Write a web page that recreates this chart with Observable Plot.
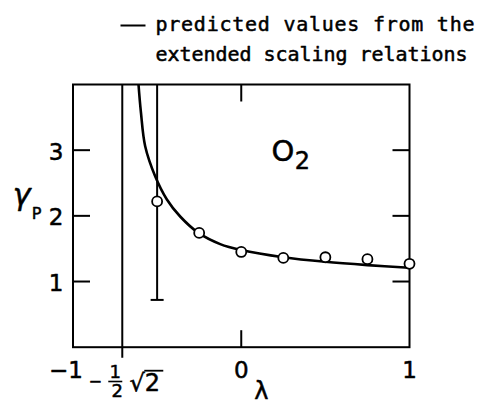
<!DOCTYPE html>
<html>
<head>
<meta charset="utf-8">
<script src="https://cdn.jsdelivr.net/npm/d3@7"></script>
<script src="https://cdn.jsdelivr.net/npm/@observablehq/plot@0.6"></script>
<style>
  body { margin: 0; background: #fff; }
</style>
</head>
<body>
<div id="chart"></div>
<script>
// Measured γ_P for O2 at each λ
const lambda = [-0.5, -0.25, 0, 0.25, 0.5, 0.75, 1];
const gammaP = [2.22, 1.74, 1.45, 1.36, 1.37, 1.34, 1.27];

// Error bar on the λ = -0.5 point (its upper end runs off the top)
const errLambda = [-0.5];
const errLow = [0.72];
const errHigh = [4.2];

// Predicted values from the extended scaling relations
const curveLambda = [-0.62, -0.612, -0.596, -0.571, -0.511, -0.442, -0.363, -0.254, -0.125, 0, 0.25, 0.5, 0.75, 1];
const curveGamma  = [4.4, 4.05, 3.57, 3.06, 2.60, 2.25, 1.99, 1.74, 1.57, 1.48, 1.37, 1.30, 1.25, 1.21];

// Vertical asymptote at λ = -½√2, drawn down past the axis
const asymptote = [-Math.SQRT1_2];
const asymptoteBottom = -0.17;
const asymptoteTop = 4;

// Axis ticks and labels
const xTicks = [-1, 0, 1];
const xTickLabels = ["−1", "0", "1"];
const yTicks = [1, 2, 3];
const yTickLabels = ["1", "2", "3"];
const xInnerTicks = [0];

const legendLines = ["predicted values from the", "extended scaling relations"];

const points = lambda.map((l, i) => ({l, g: gammaP[i]}));
const curve = curveLambda.map((l, i) => ({l, g: curveGamma[i]}));
const errors = errLambda.map((l, i) => ({l, lo: errLow[i], hi: errHigh[i]}));

// Small line-segment symbols for ticks, caps and the legend swatch
const hLine = (x0, x1) => ({draw(ctx) { ctx.moveTo(x0, 0); ctx.lineTo(x1, 0); }});
const vLine = (y0, y1) => ({draw(ctx) { ctx.moveTo(0, y0); ctx.lineTo(0, y1); }});

const sans = "DejaVu Sans, Liberation Sans, sans-serif";
const mono = "DejaVu Sans Mono, Liberation Mono, monospace";
// lettering with a slightly heavier pen
const ink = {fill: "black", stroke: "black", strokeWidth: 0.5};
const label = {...ink, textAnchor: "middle", lineAnchor: "middle"};

const chart = Plot.plot({
  width: 479,
  height: 406,
  marginLeft: 72.5,
  marginRight: 70,
  marginTop: 84,
  marginBottom: 59.3,
  x: {domain: [-1, 1], axis: null},
  y: {domain: [0, 4], axis: null},
  style: {fontFamily: sans, fontSize: "23px", color: "black", background: "white", overflow: "visible"},
  marks: [
    Plot.frame({stroke: "black", strokeWidth: 2}),

    // inward ticks: y on both sides, x = 0 on top and bottom
    Plot.dot(yTicks, {x: () => -1, y: d => d, symbol: hLine(0, 17), stroke: "black", strokeWidth: 2, fill: "none"}),
    Plot.dot(yTicks, {x: () => 1, y: d => d, symbol: hLine(-17, 0), stroke: "black", strokeWidth: 2, fill: "none"}),
    Plot.dot(xInnerTicks, {x: d => d, y: () => 4, symbol: vLine(0, 17), stroke: "black", strokeWidth: 2, fill: "none"}),
    Plot.dot(xInnerTicks, {x: d => d, y: () => 0, symbol: vLine(-17, 0), stroke: "black", strokeWidth: 2, fill: "none"}),

    // tick labels
    Plot.text(yTicks, {x: () => -1, y: d => d, text: (d, i) => yTickLabels[i], ...ink, textAnchor: "end", lineAnchor: "middle", dx: -9.5, dy: 2}),
    Plot.text(xTicks, {filter: d => d < 0, x: d => d, y: () => 0, text: (d, i) => xTickLabels[i], ...label, dx: -7, dy: 23}),
    Plot.text(xTicks, {filter: d => d >= 0, x: d => d, y: () => 0, text: (d, i) => xTickLabels[i], ...label, dy: 23}),

    // the -½√2 label under the asymptote
    Plot.text(asymptote, {x: d => d, y: () => 0, text: () => "−", ...label, fontSize: 16, dx: -27, dy: 34.3}),
    Plot.text(asymptote, {x: d => d, y: () => 0, text: () => "1", ...label, fontSize: 18, dx: -7, dy: 25}),
    Plot.dot(asymptote, {x: d => d, y: () => 0, symbol: hLine(-14, 0), dy: 34.3, stroke: "black", strokeWidth: 1.6, fill: "none"}),
    Plot.text(asymptote, {x: d => d, y: () => 0, text: () => "2", ...label, fontSize: 18, dx: -5, dy: 44}),
    Plot.text(asymptote, {x: d => d, y: () => 0, text: () => "√2", ...label, fontSize: 24, dx: 22.5, dy: 35.8}),
    Plot.dot(asymptote, {x: d => d, y: () => 0, symbol: hLine(22, 41), dy: 23.5, stroke: "black", strokeWidth: 1.8, fill: "none"}),

    // axis titles
    Plot.text(["λ"], {frameAnchor: "bottom", ...label, dx: 20, dy: 44.6, fontSize: 24}),
    Plot.text(["γ"], {frameAnchor: "left", ...label, dx: -51.5, dy: -20.8, fontSize: 30, fontStyle: "italic"}),
    Plot.text(["P"], {frameAnchor: "left", ...label, dx: -36.5, dy: -1.6, fontSize: 16}),

    // species label
    Plot.text(["O"], {frameAnchor: "top-left", ...label, dx: 210, dy: 67.3, fontSize: 29}),
    Plot.text(["2"], {frameAnchor: "top-left", ...label, dx: 229.5, dy: 77, fontSize: 24}),

    // asymptote and error bar
    Plot.ruleX(asymptote, {x: d => d, y1: () => asymptoteBottom, y2: () => asymptoteTop, stroke: "black", strokeWidth: 2}),
    Plot.ruleX(errors, {x: "l", y1: "lo", y2: "hi", stroke: "black", strokeWidth: 2, clip: true}),
    Plot.dot(errors, {x: "l", y: "lo", symbol: hLine(-6.5, 6.5), stroke: "black", strokeWidth: 2, fill: "none"}),

    // predicted curve
    Plot.line(curve, {x: "l", y: "g", curve: "catmull-rom", stroke: "black", strokeWidth: 2.6, clip: true}),

    // measured points
    Plot.dot(points, {x: "l", y: "g", r: 5, fill: "white", stroke: "black", strokeWidth: 1.8}),

    // legend
    Plot.dot([0], {frameAnchor: "top-left", symbol: hLine(0, 25), dx: 47.5, dy: -59, stroke: "black", strokeWidth: 2, fill: "none"}),
    Plot.text(legendLines.slice(0, 1), {frameAnchor: "top-left", ...ink, textAnchor: "start", lineAnchor: "middle", dx: 82.5, dy: -60.4, fontFamily: mono, fontSize: 20}),
    Plot.text(legendLines.slice(1), {frameAnchor: "top-left", ...ink, textAnchor: "start", lineAnchor: "middle", dx: 82.5, dy: -30.4, fontFamily: mono, fontSize: 20})
  ]
});

// stretch the legend lines to their lettered widths
const legendWidths = [319, 312];
d3.select(chart).selectAll("text").each(function() {
  const k = legendLines.indexOf(this.textContent);
  if (k >= 0) d3.select(this).attr("textLength", legendWidths[k]).attr("lengthAdjust", "spacing");
});

document.getElementById("chart").append(chart);
</script>
</body>
</html>
